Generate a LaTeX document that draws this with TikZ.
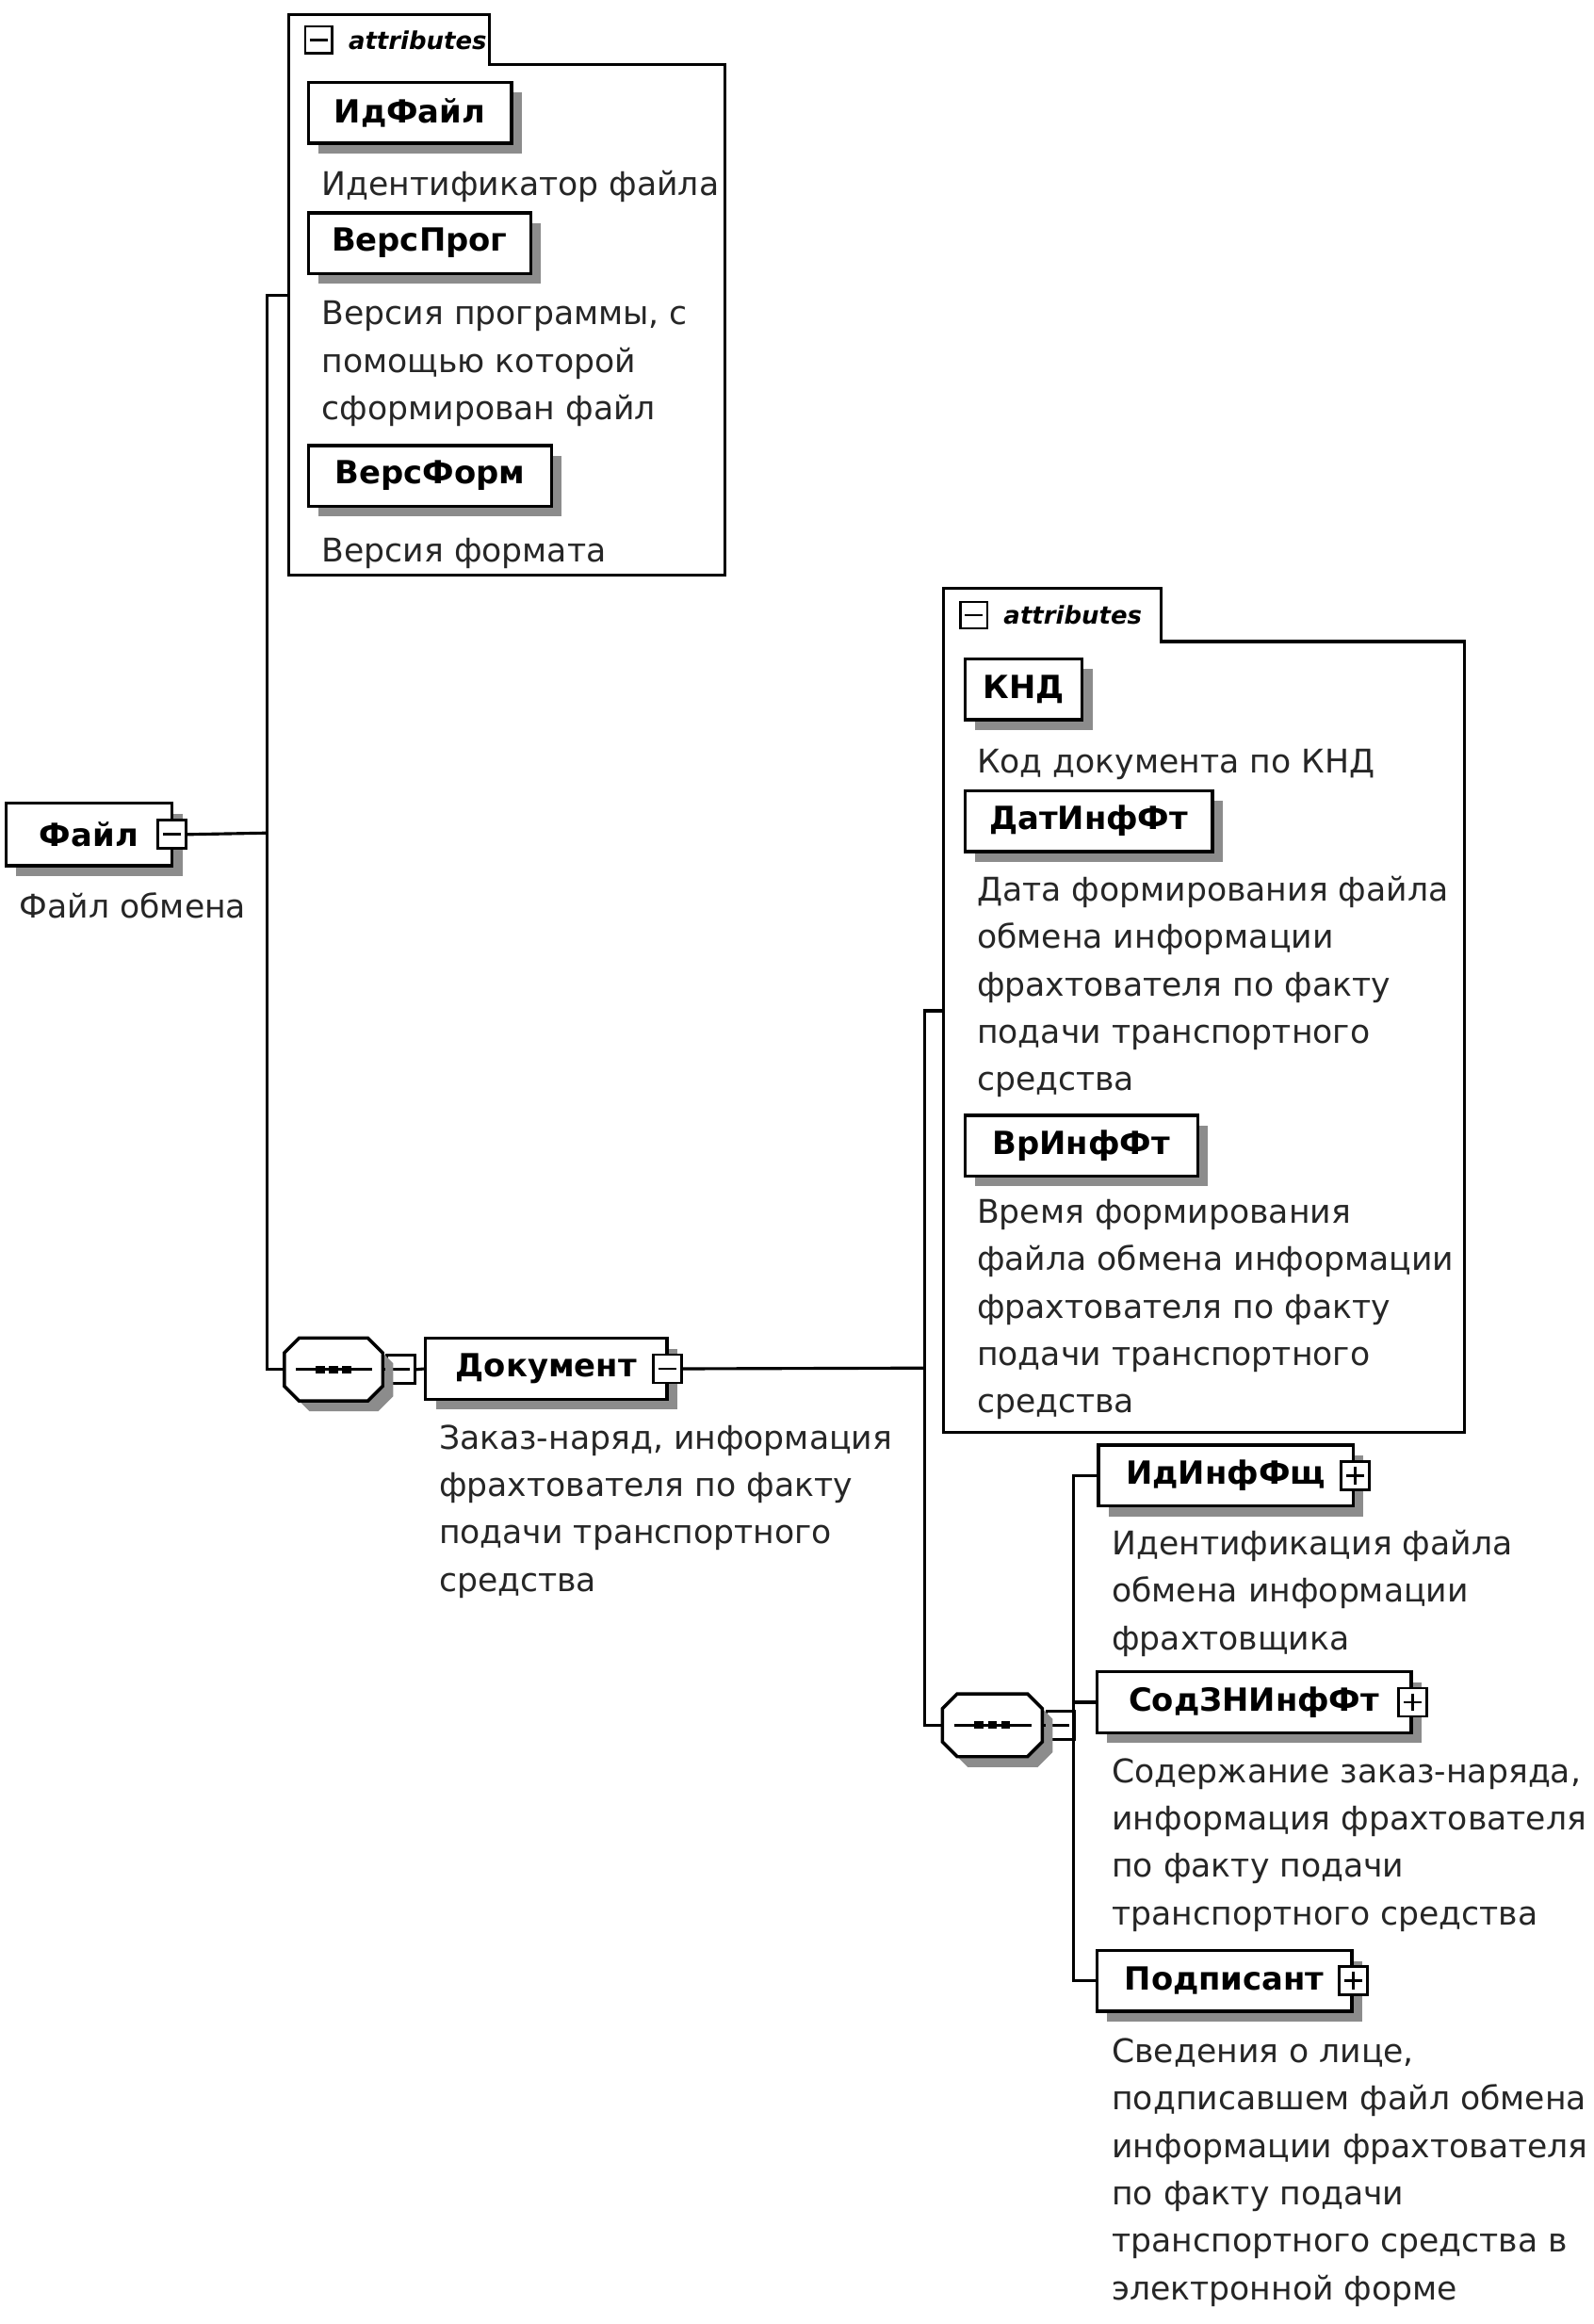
\documentclass[tikz,border=0pt]{standalone}
\usepackage{fontspec}
\setmainfont{DejaVu Sans}
\usetikzlibrary{shadows,positioning}
\begin{document}
\begin{tikzpicture}[x=1pt,y=-1pt,line join=miter,font=\fontsize{22}{32}\selectfont]
	\tikzset{
		elem/.style={draw,line width=2.2pt,fill=white,minimum height=41pt,inner sep=0pt,
			font=\bfseries\fontsize{21.5}{25}\selectfont,
			drop shadow={shadow xshift=7pt,shadow yshift=-7pt,fill=black!45,opacity=1}},
		btn/.style={draw,line width=1.8pt,fill=white,minimum size=19pt,inner sep=0pt},
		minusbtn/.style={btn,path picture={
			\draw[line width=1.8pt] ([xshift=3.5pt]path picture bounding box.west)--([xshift=-3.5pt]path picture bounding box.east);}},
		plusbtn/.style={btn,path picture={
			\draw[line width=1.8pt] ([xshift=3.5pt]path picture bounding box.west)--([xshift=-3.5pt]path picture bounding box.east);
			\draw[line width=1.8pt] ([yshift=-3.5pt]path picture bounding box.north)--([yshift=3.5pt]path picture bounding box.south);}},
		seqpath/.style={insert path={([xshift=10pt]#1.north west) -- ([xshift=-10pt]#1.north east) -- ([yshift=-10pt]#1.north east)
			-- ([yshift=10pt]#1.south east) -- ([xshift=-10pt]#1.south east) -- ([xshift=10pt]#1.south west)
			-- ([yshift=10pt]#1.south west) -- ([yshift=-10pt]#1.north west) -- cycle}},
		area/.style={draw=none,inner sep=0pt},
		attrline/.style={line width=2pt},
		tabtext/.style={anchor=west,inner sep=0pt,font=\bfseries\itshape\fontsize{16.5}{18}\selectfont},
		desc/.style={anchor=north west,align=left,inner sep=0pt,text=black!85,
			execute at begin node={\rule{0pt}{20pt}}},
		wire/.style={line width=2pt}
	}
	\path[use as bounding box,fill=white] (0,0) rectangle (1075,1568);
	% Файл
	\node[elem,minimum width=112pt,minimum height=42pt] (file) at (60,563) {Файл\hspace{10pt}};
	\node[minusbtn] (btnFile) at ([xshift=-1pt]file.east) {};
	\node[desc] (dFile) at (13,599) {Файл обмена};
	% attributes 1
	\node[area,minimum width=135pt,minimum height=34pt] (tabA) at (262.5,27) {};
	\node[area,minimum width=294pt,minimum height=344pt] (attrA) at (342,216) {};
	\draw[attrline] (tabA.south west) |- (tabA.north east) |- (attrA.north east) |- (attrA.south west) -- cycle;
	\node[btn,minimum size=18pt,line width=1.5pt,path picture={\draw[line width=1.5pt] ([xshift=3pt]path picture bounding box.west)--([xshift=-3pt]path picture bounding box.east);}] (tabminA) at (215,27) {};
	\node[tabtext] (tabtxtA) at (235,27) {attributes};
	\foreach \n/\x/\y/\w/\t in {idFile/276.5/76/137/ИдФайл,versProg/283/164/150/ВерсПрог,versForm/290/321/164/ВерсФорм}{
		\node[elem,minimum width=\w pt] (\n) at (\x,\y) {\t};}
	\node[desc] (dIdFile) at (217,112) {Идентификатор файла};
	\node[desc] (dVersProg) at (217,203) {Версия программы, с\\помощью которой\\сформирован файл};
	\node[desc] (dVersForm) at (217,359) {Версия формата};
	\coordinate (attrAin) at (195,199);
	\coordinate (forkA) at (180,562);
	% Документ
	\node[area,minimum width=66pt,minimum height=42pt] (seqA) at (225,924) {};
	\node[minusbtn,right=2pt of seqA] (btnSeqA) {};
	\node[elem,minimum width=163pt] (doc) at (368.5,923.5) {Документ\hspace{8pt}};
	\node[minusbtn] (btnDoc) at ([xshift=-1pt]doc.east) {};
	\node[desc] (dDoc) at (296,961) {Заказ-наряд, информация\\фрахтователя по факту\\подачи транспортного\\средства};
	% attributes 2
	\node[area,minimum width=146pt,minimum height=36pt] (tabB) at (710,415) {};
	\node[area,minimum width=351pt,minimum height=533pt] (attrB) at (812.5,699.5) {};
	\draw[attrline] (tabB.south west) |- (tabB.north east) |- (attrB.north east) |- (attrB.south west) -- cycle;
	\node[btn,minimum size=18pt,line width=1.5pt,path picture={\draw[line width=1.5pt] ([xshift=3pt]path picture bounding box.west)--([xshift=-3pt]path picture bounding box.east);}] (tabminB) at (657,415) {};
	\node[tabtext] (tabtxtB) at (677,415) {attributes};
	\foreach \n/\x/\y/\w/\t in {knd/690.5/465/79/КНД,datInf/734.5/554/167/ДатИнфФт,vrInf/729.5/773/157/ВрИнфФт}{
		\node[elem,minimum width=\w pt] (\n) at (\x,\y) {\t};}
	\node[desc] (dKnd) at (659,501) {Код документа по КНД};
	\node[desc] (dDatInf) at (659,591) {Дата формирования файла\\обмена информации\\фрахтователя по факту\\подачи транспортного\\средства};
	\node[desc] (dVrInf) at (659,809) {Время формирования\\файла обмена информации\\фрахтователя по факту\\подачи транспортного\\средства};
	\coordinate (attrBin) at (637,682);
	\coordinate (forkB) at (624,923);
	% sequence 2
	\node[area,minimum width=67pt,minimum height=42pt] (seqB) at (669.5,1164) {};
	\node[minusbtn,right=2pt of seqB] (btnSeqB) {};
	\coordinate (forkC) at (724,1164);
	\foreach \n/\x/\y/\w/\t in {idInf/827/995.5/172/ИдИнфФщ,sodZn/846/1148.5/212/СодЗНИнфФт,podp/826/1336.5/172/Подписант}{
		\node[elem,minimum width=\w pt] (\n) at (\x,\y) {\t\hspace{10pt}};
		\node[plusbtn] (btn\n) at (\n.east) {};}
	\node[desc] (dIdInf) at (750,1032) {Идентификация файла\\обмена информации\\фрахтовщика};
	\node[desc] (dSodZn) at (750,1186) {Содержание заказ-наряда,\\информация фрахтователя\\по факту подачи\\транспортного средства};
	\node[desc] (dPodp) at (750,1375) {Сведения о лице,\\подписавшем файл обмена\\информации фрахтователя\\по факту подачи\\транспортного средства в\\электронной форме};
	% sequence shapes
	\foreach \s in {seqA,seqB}{
		\fill[black!45,transform canvas={xshift=7pt,yshift=-7pt},seqpath=\s];
		\filldraw[fill=white,line width=2.2pt,seqpath=\s];
		\draw[line width=1.8pt] ([xshift=8pt]\s.west) -- ([xshift=-7pt]\s.east);
		\foreach \d in {-9,0,9}{
			\fill ([xshift=\d pt-3pt,yshift=-2.5pt]\s.center) rectangle ([xshift=\d pt+3pt,yshift=2.5pt]\s.center);}}
	% connectors
	\draw[wire] (btnFile.east) -- (forkA);
	\draw[wire] (attrAin) -| (forkA) |- (seqA.west);
	\draw[wire] (seqA.east) -- (btnSeqA.west);
	\draw[wire] (btnSeqA.east) -- (doc.west);
	\draw[wire] (btnDoc.east) -- (forkB);
	\draw[wire] (attrBin) -| (forkB) |- (seqB.west);
	\draw[wire] (seqB.east) -- (btnSeqB.west);
	\draw[wire] (btnSeqB.east) -- (forkC);
	\draw[wire] (idInf.west) -| (forkC) |- (podp.west);
	\draw[wire] (sodZn.west) -- (sodZn.west -| forkC);
\end{tikzpicture}
\end{document}
